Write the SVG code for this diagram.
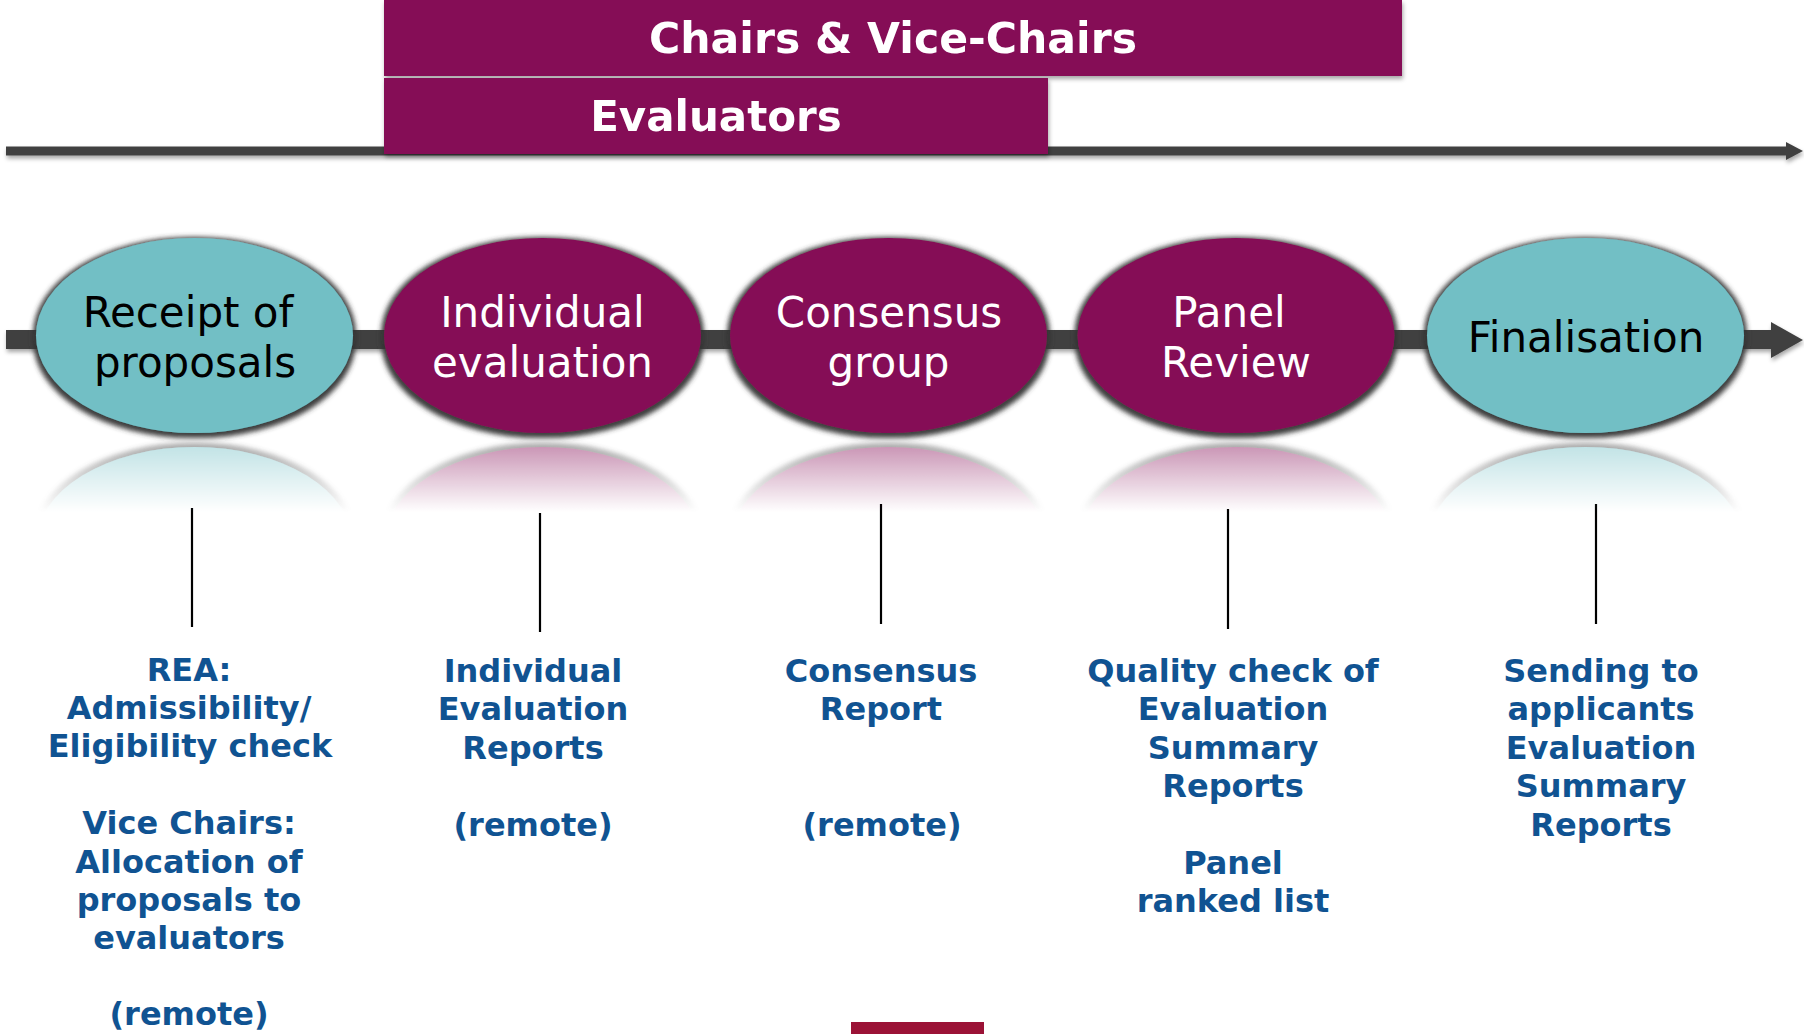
<svg xmlns="http://www.w3.org/2000/svg" width="1804" height="1034" viewBox="0 0 1804 1034">
<defs>
<style>
.bar{fill:#850A57}
.bartxt{font-family:"DejaVu Sans","Verdana",sans-serif;font-weight:bold;font-size:42px;fill:#ffffff;text-anchor:middle}
.teal{fill:#72BFC5}
.plum{fill:#850A57}
.ntxt{font-family:"DejaVu Sans","Verdana",sans-serif;font-size:42px;text-anchor:middle}
.dark{fill:#000000}
.light{fill:#ffffff}
.desc{font-family:"DejaVu Sans","Verdana",sans-serif;font-weight:bold;font-size:32px;fill:#105392;text-anchor:middle}
.tick{stroke:#000000;stroke-width:2.2;fill:none}
.axis{fill:#404040}
</style>
<filter id="rim" x="-10%" y="-15%" width="120%" height="135%">
<feMorphology in="SourceAlpha" operator="dilate" radius="3" result="d"/>
<feGaussianBlur in="d" stdDeviation="2.5" result="b"/>
<feOffset in="b" dy="1.5" result="o"/>
<feFlood flood-color="#333333" flood-opacity="0.95"/>
<feComposite in2="o" operator="in" result="s"/>
<feMerge><feMergeNode in="s"/><feMergeNode in="SourceGraphic"/></feMerge>
</filter>
<filter id="shadow" x="-5%" y="-20%" width="110%" height="160%">
<feGaussianBlur in="SourceAlpha" stdDeviation="2" result="b"/>
<feOffset in="b" dx="1" dy="3" result="o"/>
<feFlood flood-color="#000000" flood-opacity="0.35"/>
<feComposite in2="o" operator="in" result="s"/>
<feMerge><feMergeNode in="s"/><feMergeNode in="SourceGraphic"/></feMerge>
</filter>
<linearGradient id="fadeGrad" gradientUnits="userSpaceOnUse" x1="0" y1="444" x2="0" y2="512">
<stop offset="0" stop-color="#ffffff" stop-opacity="0.45"/>
<stop offset="1" stop-color="#ffffff" stop-opacity="0"/>
</linearGradient>
<mask id="fade" maskUnits="userSpaceOnUse" x="0" y="436" width="1804" height="80">
<rect x="0" y="436" width="1804" height="80" fill="url(#fadeGrad)"/>
</mask>
</defs>
<rect x="0" y="0" width="1804" height="1034" fill="#ffffff"/>

<g id="connectors">
<g filter="url(#shadow)">
<rect class="axis" x="6" y="146.5" width="1784" height="9"/>
<polygon class="axis" points="1786,142 1803,151 1786,160"/>
</g>
<g filter="url(#shadow)">
<rect class="axis" x="6" y="330" width="1767" height="19"/>
<polygon class="axis" points="1771,322 1803,340 1771,358"/>
</g>
<line class="tick" x1="192" y1="508" x2="192" y2="627"/>
<line class="tick" x1="540" y1="513" x2="540" y2="632"/>
<line class="tick" x1="881" y1="504" x2="881" y2="624"/>
<line class="tick" x1="1228" y1="509" x2="1228" y2="629"/>
<line class="tick" x1="1596" y1="504" x2="1596" y2="624"/>
</g>

<g id="bar-chairs" filter="url(#shadow)">
<rect class="bar" x="384" y="0" width="1018" height="76"/>
<text class="bartxt" x="893" y="53" style="font-size:42.6px">Chairs &amp; Vice-Chairs</text>
</g>
<g id="bar-evaluators" filter="url(#shadow)">
<rect class="bar" x="384" y="78" width="664" height="76"/>
<text class="bartxt" x="716" y="131">Evaluators</text>
</g>

<g id="reflections" mask="url(#fade)">
<g transform="matrix(1 0 0 -1 0 880)">
<ellipse class="teal" cx="194.5" cy="335.5" rx="158.5" ry="97.5" filter="url(#rim)"/>
<ellipse class="plum" cx="542.5" cy="335.5" rx="158.5" ry="97.5" filter="url(#rim)"/>
<ellipse class="plum" cx="888.5" cy="335.5" rx="158.5" ry="97.5" filter="url(#rim)"/>
<ellipse class="plum" cx="1236" cy="335.5" rx="158.5" ry="97.5" filter="url(#rim)"/>
<ellipse class="teal" cx="1585.5" cy="335.5" rx="158.5" ry="97.5" filter="url(#rim)"/>
</g>
</g>

<g id="node-receipt">
<ellipse class="teal" cx="194.5" cy="335.5" rx="158.5" ry="97.5" filter="url(#rim)"/>
<text class="ntxt dark" x="188" y="327">Receipt of</text>
<text class="ntxt dark" x="195" y="377">proposals</text>
</g>
<g id="node-individual">
<ellipse class="plum" cx="542.5" cy="335.5" rx="158.5" ry="97.5" filter="url(#rim)"/>
<text class="ntxt light" x="542.5" y="327">Individual</text>
<text class="ntxt light" x="542.5" y="377">evaluation</text>
</g>
<g id="node-consensus">
<ellipse class="plum" cx="888.5" cy="335.5" rx="158.5" ry="97.5" filter="url(#rim)"/>
<text class="ntxt light" x="889" y="327">Consensus</text>
<text class="ntxt light" x="888.5" y="377">group</text>
</g>
<g id="node-panel">
<ellipse class="plum" cx="1236" cy="335.5" rx="158.5" ry="97.5" filter="url(#rim)"/>
<text class="ntxt light" x="1229" y="327">Panel</text>
<text class="ntxt light" x="1236" y="377">Review</text>
</g>
<g id="node-final">
<ellipse class="teal" cx="1585.5" cy="335.5" rx="158.5" ry="97.5" filter="url(#rim)"/>
<text class="ntxt dark" x="1586" y="352">Finalisation</text>
</g>

<g id="desc-receipt">
<text class="desc" x="189" y="680.5">REA:</text>
<text class="desc" x="189" y="718.9">Admissibility/</text>
<text class="desc" x="190" y="757.3">Eligibility check</text>
<text class="desc" x="189" y="834.1">Vice Chairs:</text>
<text class="desc" x="189" y="872.5">Allocation of</text>
<text class="desc" x="189" y="910.9">proposals to</text>
<text class="desc" x="189" y="949.3">evaluators</text>
<text class="desc" x="189" y="1025">(remote)</text>
</g>
<g id="desc-individual">
<text class="desc" x="533" y="682">Individual</text>
<text class="desc" x="533" y="720.4">Evaluation</text>
<text class="desc" x="533" y="758.8">Reports</text>
<text class="desc" x="533" y="835.6">(remote)</text>
</g>
<g id="desc-consensus">
<text class="desc" x="881" y="682">Consensus</text>
<text class="desc" x="881" y="720.4">Report</text>
<text class="desc" x="882" y="835.6">(remote)</text>
</g>
<g id="desc-panel">
<text class="desc" x="1233" y="682">Quality check of</text>
<text class="desc" x="1233" y="720.4">Evaluation</text>
<text class="desc" x="1233" y="758.8">Summary</text>
<text class="desc" x="1233" y="797.2">Reports</text>
<text class="desc" x="1233" y="874">Panel</text>
<text class="desc" x="1233" y="912.4">ranked list</text>
</g>
<g id="desc-final">
<text class="desc" x="1601" y="682">Sending to</text>
<text class="desc" x="1601" y="720.4">applicants</text>
<text class="desc" x="1601" y="758.8">Evaluation</text>
<text class="desc" x="1601" y="797.2">Summary</text>
<text class="desc" x="1601" y="835.6">Reports</text>
</g>

<rect id="footer-tab" x="851" y="1022" width="133" height="12" fill="#9B1236"/>
</svg>
